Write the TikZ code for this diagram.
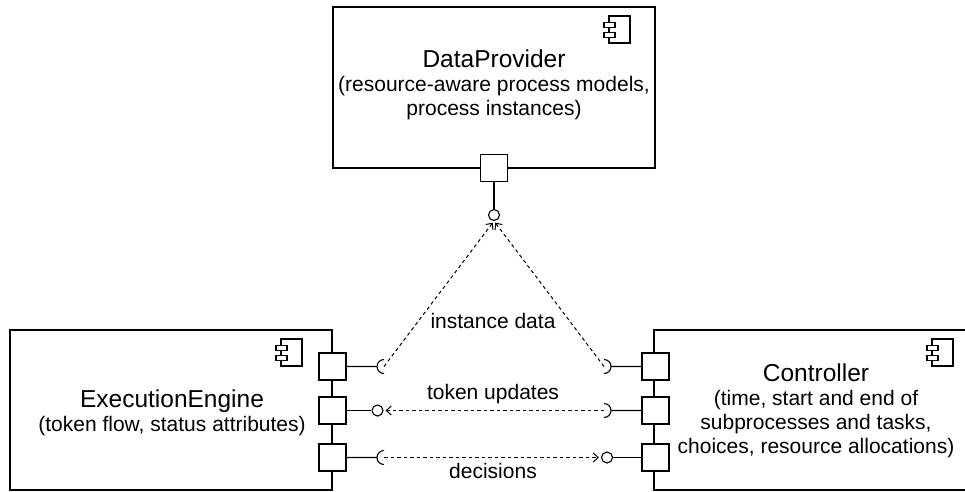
\documentclass[tikz,border=0pt]{standalone}
\usepackage{fontspec}
\setmainfont{Liberation Sans}
\usetikzlibrary{arrows.meta}

% component symbol, #1,#2 = top right corner of its body
\newcommand\umlicon[2]{%
  \draw[icon] (#1-21,#2) rectangle (#1,#2+27);
  \draw[icon,fill=white] (#1-26,#2+6.5) rectangle (#1-15,#2+11.5);
  \draw[icon,fill=white] (#1-26,#2+16.5) rectangle (#1-15,#2+21.5);
}

\begin{document}
\begin{tikzpicture}[x=1pt,y=-1pt]

    \tikzset{
      comp/.style={draw, line width=1.1pt, fill=white, inner sep=0pt},
      port/.style={draw, line width=1.1pt, fill=white, minimum size=27pt, inner sep=0pt},
      ball/.style={draw, circle, line width=1.1pt, fill=white, minimum size=11pt, inner sep=0pt},
      icon/.style={line width=1.1pt},
      wire/.style={line width=1.1pt},
      dep/.style={line width=1pt, dash pattern=on 3.5pt off 3pt, shorten >=2pt,
        -{Straight Barb[length=5pt,width=9pt]}},
      ctext/.style={align=center, font=\fontsize{21}{24}\selectfont},
      lbl/.style={font=\fontsize{21}{24}\selectfont, inner sep=0pt},
    }
    \clip (0,0) rectangle (965,491);

    % components
    \node[comp, minimum width=322pt, minimum height=161pt] (dp) at (494,87.5) {};
    \node[comp, minimum width=322pt, minimum height=160pt] (ee) at (171,410) {};
    \node[comp, minimum width=324pt, minimum height=160pt] (ctl) at (816,410) {};
    \umlicon{630}{16}
    \umlicon{302}{339}
    \umlicon{953}{339}
    \node[ctext] (dpText) at (494,85) {{\fontsize{24.5}{24}\selectfont DataProvider}\\(resource-aware process models,\\process instances)};
    \node[ctext] (eeText) at (172,413) {{\fontsize{24.5}{24}\selectfont ExecutionEngine}\\(token flow, status attributes)};
    \node[ctext] (ctlText) at (816,410.5) {{\fontsize{24.5}{24}\selectfont Controller}\\(time, start and end of\\subprocesses and tasks,\\choices, resource allocations)};

    % ports
    \node[port] (dpPort) at (494,168) {};
    \node[port] (eePortA) at (332.5,366.5) {};
    \node[port] (eePortB) at (332.5,410.5) {};
    \node[port] (eePortC) at (332.5,457.5) {};
    \node[port] (ctlPortA) at (655.5,366.5) {};
    \node[port] (ctlPortB) at (655.5,410.5) {};
    \node[port] (ctlPortC) at (655.5,457.5) {};

    % provided interfaces
    \node[ball] (dpBall) at (494,215) {};
    \node[ball] (eeBall) at (377.5,410.5) {};
    \node[ball] (ctlBall) at (607,457.5) {};
    \draw[wire] (dpPort.south) -- (dpBall.north);
    \draw[wire] (eePortB.east) -- (eeBall.west);
    \draw[wire] (ctlPortC.west) -- (ctlBall.east);

    % required interfaces
    \coordinate (eeSockA) at (377,366.5);
    \coordinate (eeSockC) at (377,457.5);
    \coordinate (ctlSockA) at (611,366.5);
    \coordinate (ctlSockB) at (611,410.5);
    \draw[wire] (eePortA.east) -- (eeSockA) arc[start angle=180, end angle=90, radius=7]
      (eeSockA) arc[start angle=180, end angle=270, radius=7];
    \draw[wire] (eePortC.east) -- (eeSockC) arc[start angle=180, end angle=90, radius=7]
      (eeSockC) arc[start angle=180, end angle=270, radius=7];
    \draw[wire] (ctlPortA.west) -- (ctlSockA) arc[start angle=0, end angle=90, radius=7]
      (ctlSockA) arc[start angle=0, end angle=-90, radius=7];
    \draw[wire] (ctlPortB.west) -- (ctlSockB) arc[start angle=0, end angle=90, radius=7]
      (ctlSockB) arc[start angle=0, end angle=-90, radius=7];

    % dependencies
    \draw[dep] ([xshift=7pt]eeSockA) -- (dpBall.south);
    \draw[dep] ([xshift=-7pt]ctlSockA) -- (dpBall.south);
    \draw[dep] ([xshift=-7pt]ctlSockB) -- (eeBall.east);
    \draw[dep] ([xshift=7pt]eeSockC) -- (ctlBall.west);
    \node[lbl, anchor=base] (instLbl) at (493,328) {instance data};
    \node[lbl, anchor=base] (tokLbl) at (493,399) {token updates};
    \node[lbl, anchor=base] (decLbl) at (493,478) {decisions};

\end{tikzpicture}
\end{document}
